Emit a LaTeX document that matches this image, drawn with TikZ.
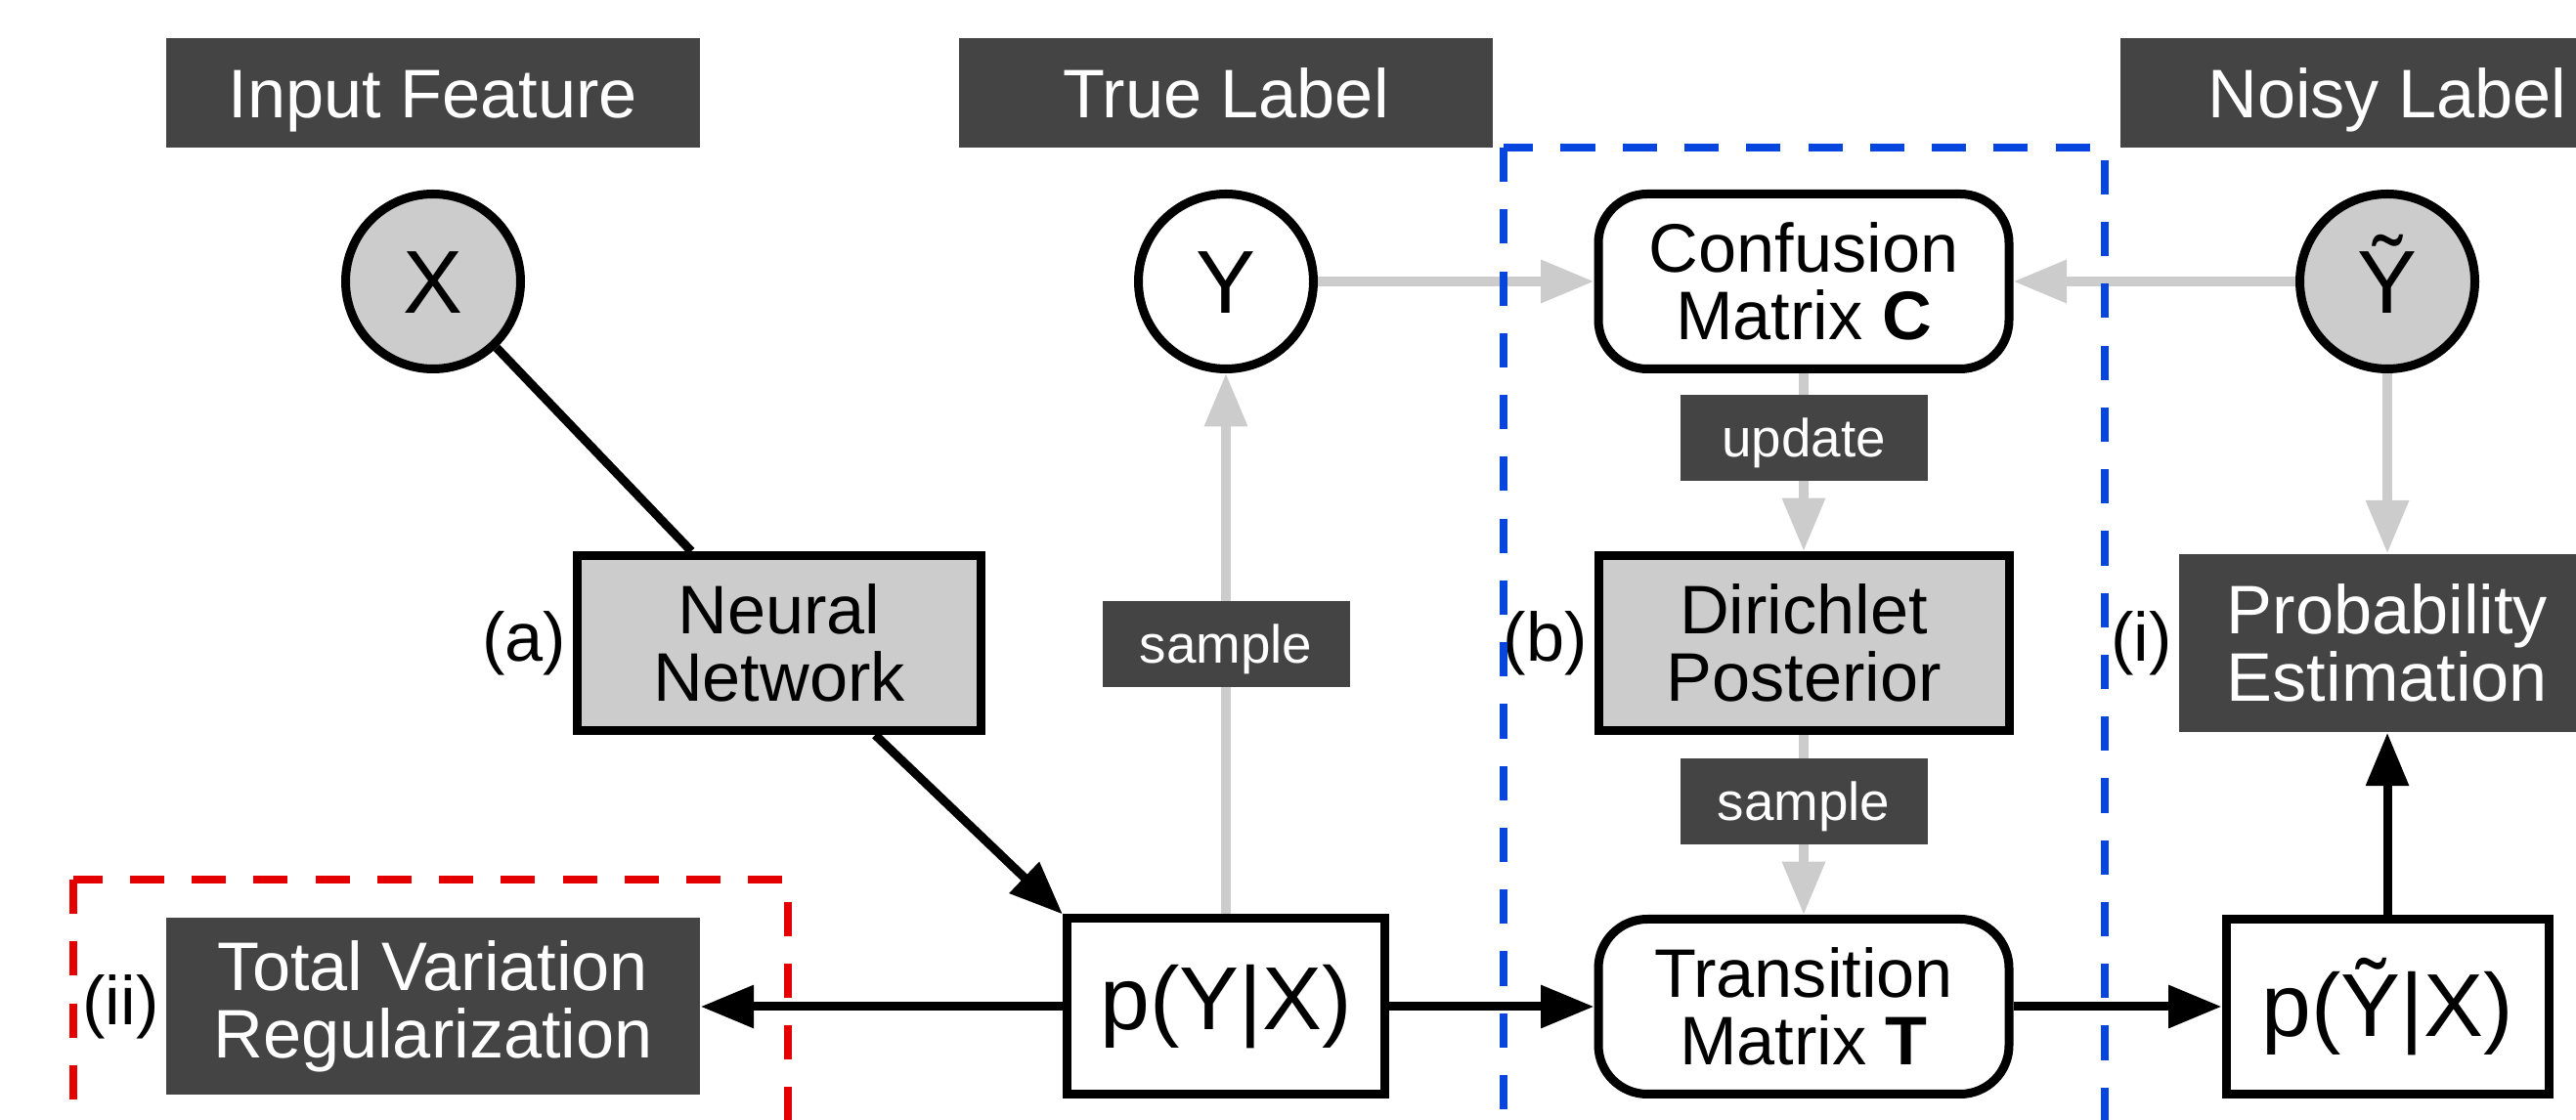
\documentclass[tikz,border=0pt]{standalone}
\usepackage{fontspec}
\setmainfont{Liberation Sans}
\usetikzlibrary{arrows.meta, positioning}

\definecolor{boxdark}{HTML}{444444}
\definecolor{boxlight}{HTML}{CCCCCC}
\definecolor{groupblue}{HTML}{0645DE}
\definecolor{groupred}{HTML}{E40000}

\begin{document}
\begin{tikzpicture}[on grid, >={Triangle[length=15.5pt,width=12pt]},
        every node/.style={font=\fontsize{20}{19.5}\selectfont, align=center, inner sep=0pt},
        label distance=0.06cm,
        var/.style={circle, draw, line width=0.09cm, minimum size=1.79cm, fill=#1,
            font=\fontsize{26}{30}\selectfont, text height=18.6pt, text depth=0pt},
        var/.default=white,
        block/.style={rectangle, draw, line width=0.09cm, minimum width=4.20cm, minimum height=1.79cm, fill=#1},
        block/.default=white,
        mat/.style={block, rounded corners=0.5cm},
        dark/.style={fill=boxdark, text=white, minimum width=5.46cm, minimum height=1.12cm},
        head/.style={dark, text height=14.3pt, text depth=0pt},
        tag/.style={fill=boxdark, text=white, font=\fontsize{15.6}{18}\selectfont, minimum width=2.53cm, minimum height=0.88cm,
            text height=11.2pt, text depth=0pt},
        big/.style={font=\fontsize{26}{30}\selectfont},
        flow/.style={->, line width=0.09cm},
        obs/.style={->, draw=boxlight, line width=0.095cm},
        group/.style={line width=0.08cm, dash pattern=on 10pt off 8pt}]
        \useasboundingbox (0,0) rectangle (26.35,11.46);
        \clip (0,0) rectangle (26.35,11.46);

        % variables
        \node[var=boxlight] (X) at (4.43,8.58) {X};
        \node[var] (Y) [right=8.11cm of X] {Y};
        \node[mat] (conf) [right=5.91cm of Y] {Confusion\\Matrix \textbf{C}};
        \node[var=boxlight] (Yt) [right=5.97cm of conf] {Ỹ};

        % column headers
        \node[head] (inp) [above=1.93cm of X] {Input Feature};
        \node[head] (tru) [above=1.93cm of Y] {True Label};
        \node[head] (noi) [above=1.93cm of Yt] {Noisy Label};

        \node[block=boxlight, minimum width=4.13cm, label=left:(a)] (nn) [below right=3.70cm and 3.54cm of X] {Neural\\Network};
        \node[block=boxlight, label=left:(b)] (diri) [below=3.70cm of conf] {Dirichlet\\Posterior};
        \node[dark, minimum width=4.26cm, minimum height=1.82cm, label=left:(i)] (prob) [below=3.70cm of Yt] {Probability\\Estimation};

        \node[dark, minimum height=1.81cm, label=left:(ii)] (tv) [below=7.42cm of X] {Total Variation\\Regularization};
        \node[block, big, minimum width=3.25cm, minimum height=1.80cm] (pyx) [below=7.42cm of Y] {p(Y|X)};
        \node[mat] (trans) [below=7.42cm of conf] {Transition\\Matrix \textbf{T}};
        \node[block, big, minimum width=3.30cm] (pyt) [below=7.42cm of Yt] {p(Ỹ|X)};

        \draw[line width=0.09cm] (X) -- (nn);
        \draw[flow] (nn) -- (pyx.north west);
        \draw[flow] (pyx) -- (tv);
        \draw[flow] (pyx) -- (trans);
        \draw[flow] (trans) -- (pyt);
        \draw[flow] (pyt) -- (prob);

        \draw[obs] (pyx) -- node[tag] (smp1) {sample} (Y);
        \draw[obs] (Y) -- (conf);
        \draw[obs] (Yt) -- (conf);
        \draw[obs] (conf) -- node[tag, pos=0.36] (upd) {update} (diri);
        \draw[obs] (diri) -- node[tag, pos=0.37] (smp2) {sample} (trans);
        \draw[obs] (Yt) -- (prob);

        % dashed groups
        \draw[group, groupblue] (15.38,9.95) rectangle (21.53,-0.5);
        \draw[group, groupred] (0.75,2.46) rectangle (8.06,-0.5);
    \end{tikzpicture}
\end{document}
